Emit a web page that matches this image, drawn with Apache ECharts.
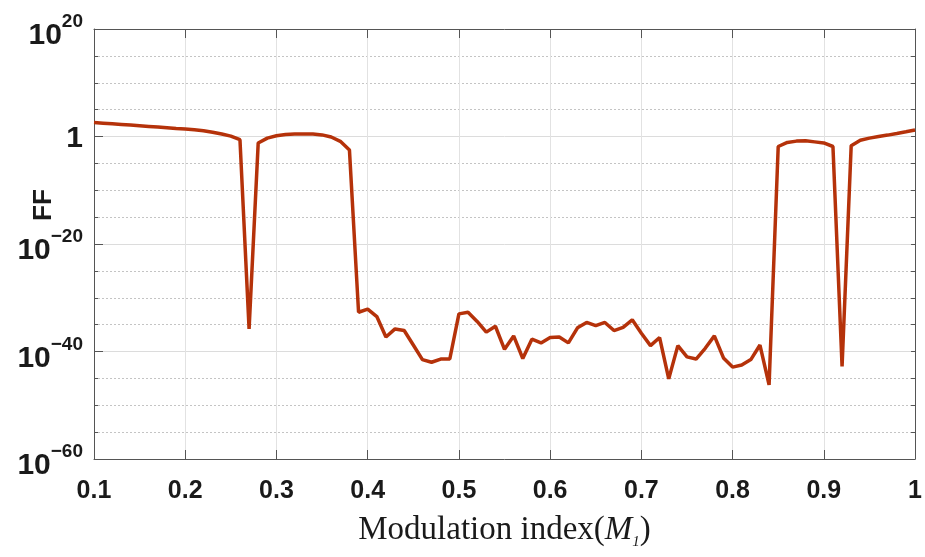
<!DOCTYPE html>
<html>
<head>
<meta charset="utf-8">
<script src="https://cdn.jsdelivr.net/npm/echarts@6/dist/echarts.min.js"></script>
<style>
html,body{margin:0;padding:0;background:#fff;}
#chart{width:925px;height:557px;}
</style>
</head>
<body>
<div id="chart"></div>
<script>
// Modulation index (M1)
var mIndex = [0.10,0.11,0.12,0.13,0.14,0.15,0.16,0.17,0.18,0.19,
              0.20,0.21,0.22,0.23,0.24,0.25,0.26,0.27,0.28,0.29,
              0.30,0.31,0.32,0.33,0.34,0.35,0.36,0.37,0.38,0.39,
              0.40,0.41,0.42,0.43,0.44,0.45,0.46,0.47,0.48,0.49,
              0.50,0.51,0.52,0.53,0.54,0.55,0.56,0.57,0.58,0.59,
              0.60,0.61,0.62,0.63,0.64,0.65,0.66,0.67,0.68,0.69,
              0.70,0.71,0.72,0.73,0.74,0.75,0.76,0.77,0.78,0.79,
              0.80,0.81,0.82,0.83,0.84,0.85,0.86,0.87,0.88,0.89,
              0.90,0.91,0.92,0.93,0.94,0.95,0.96,0.97,0.98,0.99,1.00];
// log10(FF)
var ffLog10 = [2.6,2.48,2.36,2.24,2.12,2.0,1.88,1.76,1.63,1.5,
               1.38,1.25,1.08,0.8,0.45,0.07,-0.6,-35.8,-1.2,-0.3,
               0.13,0.37,0.45,0.47,0.45,0.3,-0.1,-0.9,-2.5,-32.7,
               -32.1,-33.5,-37.3,-35.8,-36.1,-38.8,-41.5,-42,-41.4,-41.4,
               -33,-32.7,-34.4,-36.4,-35.3,-39.6,-37.1,-41.3,-37.7,-38.4,
               -37.4,-37.3,-38.4,-35.6,-34.6,-35.2,-34.6,-36.1,-35.5,-34.1,
               -36.6,-38.9,-37.4,-45.1,-38.9,-41,-41.4,-39.4,-37.1,-41.2,
               -42.9,-42.5,-41.5,-38.8,-46.2,-1.86,-1.1,-0.86,-0.8,-1.0,
               -1.2,-1.86,-42.8,-1.7,-0.7,-0.3,0,0.26,0.56,0.87,1.2];
var xTicks = [0.1,0.2,0.3,0.4,0.5,0.6,0.7,0.8,0.9,1];
var yExpTicks = [-60,-40,-20,0,20];
var yLabel = 'FF';

var sansB = "'Liberation Sans',Arial,sans-serif";
var serif = "'Liberation Serif','Times New Roman',serif";
var axisColor = '#555555';
var textColor = '#1a1a1a';

var chart = echarts.init(document.getElementById('chart'), null, {renderer:'canvas'});
var data = mIndex.map(function(x,i){return [x, ffLog10[i]];});

function fmtY(v){
  if (yExpTicks.indexOf(v) < 0) return '';
  if (v === 0) return '{one|1}';
  return '{b|10}{s|' + (v < 0 ? '\u2212' : '') + Math.abs(v) + '}';
}

var option = {
  animation:false,
  backgroundColor:'#ffffff',
  grid:{left:94,right:8,top:29,bottom:98,containLabel:false},
  xAxis:[{
    type:'value', min:0.1, max:1, interval:0.1, position:'bottom',
    axisLine:{onZero:false,lineStyle:{color:axisColor,width:1}},
    axisTick:{inside:true,length:9,lineStyle:{color:axisColor}},
    axisLabel:{margin:20,color:textColor,fontFamily:sansB,fontWeight:'bold',fontSize:25,
      formatter:function(v){ var r = Math.round(v*10)/10; return xTicks.indexOf(r) >= 0 ? r.toString() : ''; }},
    splitLine:{show:true,lineStyle:{color:'#e2e2e2',width:1,type:'solid'}},
    name:'{n|Modulation index(}{i|M}{u|1}{n|)}',
    nameLocation:'middle', nameGap:52,
    nameTextStyle:{rich:{
      n:{fontFamily:serif,fontSize:33,color:textColor},
      i:{fontFamily:serif,fontSize:33,fontStyle:'italic',color:textColor},
      u:{fontFamily:serif,fontSize:15,fontStyle:'italic',color:textColor,padding:[24,0,0,0]}
    }}
  },{
    type:'value', min:0.1, max:1, interval:0.1, position:'top',
    axisLine:{show:true,onZero:false,lineStyle:{color:axisColor,width:1}},
    axisTick:{show:true,inside:true,length:9,lineStyle:{color:axisColor}},
    axisLabel:{show:false}, splitLine:{show:false}
  }],
  yAxis:[{
    type:'value', min:-60, max:20, interval:20, position:'left',
    axisLine:{show:true,onZero:false,lineStyle:{color:axisColor,width:1}},
    axisTick:{show:true,inside:true,length:9,lineStyle:{color:axisColor}},
    axisLabel:{margin:11,color:textColor,formatter:fmtY,
      rich:{
        b:{fontFamily:sansB,fontWeight:'bold',fontSize:30,lineHeight:30,color:textColor,padding:[14,0,0,0]},
        s:{fontFamily:sansB,fontWeight:'bold',fontSize:19,lineHeight:19,color:textColor,padding:[0,0,14,0]},
        one:{fontFamily:sansB,fontWeight:'bold',fontSize:30,lineHeight:30,color:textColor,padding:[4,0,0,0]}
      }},
    splitLine:{show:true,lineStyle:{color:'#dcdcdc',width:1,type:'solid'}}
  },{
    type:'value', min:-60, max:20, interval:5, position:'left',
    axisLine:{show:false,onZero:false},
    axisTick:{show:true,inside:true,length:4,lineStyle:{color:axisColor}},
    axisLabel:{show:false},
    splitLine:{show:true,lineStyle:{color:['rgba(0,0,0,0)','#c4c4c4','#c4c4c4','#c4c4c4'],width:1,type:[2,2]}}
  },{
    type:'value', min:-60, max:20, interval:5, position:'right',
    axisLine:{show:true,onZero:false,lineStyle:{color:axisColor,width:1}},
    axisTick:{show:true,inside:true,length:4,lineStyle:{color:axisColor}},
    axisLabel:{show:false}, splitLine:{show:false}
  }],
  graphic:[{
    type:'text', x:44, y:205, rotation:Math.PI/2,
    style:{text:yLabel, fontFamily:sansB, fontWeight:'bold', fontSize:26, fill:textColor, align:'center', verticalAlign:'middle'}
  }],
  series:[{
    type:'line', xAxisIndex:0, yAxisIndex:0, data:data,
    showSymbol:false, symbol:'none',
    lineStyle:{color:'#b5320a', width:3.5}, clip:true, z:5
  }]
};
chart.setOption(option);
</script>
</body>
</html>
